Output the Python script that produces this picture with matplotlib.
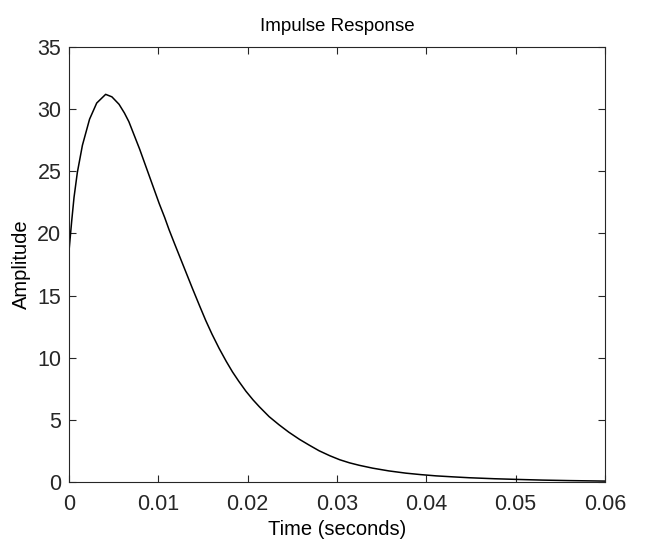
#!/usr/bin/env python3

import matplotlib
matplotlib.use("Agg")
import matplotlib.pyplot as plt

# points
t = [0.0, 0.00030, 0.00056, 0.00093, 0.0015, 0.0023, 0.0031, 0.0041, 0.0048,
     0.0056, 0.0062, 0.0067, 0.0073, 0.0079, 0.0084, 0.0090, 0.0096, 0.0101,
     0.0107, 0.0112, 0.0118, 0.0123, 0.0128, 0.0133, 0.0138, 0.0146, 0.0153,
     0.0160, 0.0168, 0.0176, 0.0183, 0.0190, 0.0198, 0.0206, 0.0213, 0.0224,
     0.0235, 0.0246, 0.0258, 0.0269, 0.0280, 0.0292, 0.0303, 0.0314, 0.0325,
     0.0340, 0.0358, 0.0377, 0.0394, 0.0411, 0.0430, 0.0448, 0.0476, 0.0504,
     0.0530, 0.0560, 0.0600]
amp = [18.6, 21.0, 22.9, 24.9, 27.1, 29.2, 30.5, 31.2, 31.0,
       30.4, 29.7, 29.0, 27.9, 26.8, 25.8, 24.6, 23.4, 22.4,
       21.3, 20.3, 19.2, 18.3, 17.4, 16.5, 15.6, 14.2, 13.0,
       11.9, 10.75, 9.7, 8.85, 8.1, 7.3, 6.6, 6.05, 5.25,
       4.6, 4.0, 3.42, 2.95, 2.5, 2.1, 1.78, 1.53, 1.33,
       1.10, 0.88, 0.70, 0.58, 0.48, 0.40, 0.33, 0.25, 0.19,
       0.14, 0.10, 0.06]

xticks = [0, 0.01, 0.02, 0.03, 0.04, 0.05, 0.06]
xticklabels = ["0", "0.01", "0.02", "0.03", "0.04", "0.05", "0.06"]
yticks = [0, 5, 10, 15, 20, 25, 30, 35]

plt.rcParams['font.family'] = ['Liberation Sans', 'DejaVu Sans']

fig = plt.figure(figsize=(6.45, 5.42), dpi=100)
ax = fig.add_axes([0.107, 0.111, 0.831, 0.802])

ax.plot(t, amp, color='black', linewidth=1.1)
ax.axhline(0, color='black', linestyle=':', linewidth=0.7)

ax.set_xlim(0, 0.06)
ax.set_ylim(0, 35)
ax.set_xticks(xticks)
ax.set_xticklabels(xticklabels)
ax.set_yticks(yticks)
ax.tick_params(direction='in', top=True, right=True, length=5, width=0.8,
               labelsize=15.5, colors='#262626')
ax.tick_params(axis='x', pad=9)
ax.tick_params(axis='y', pad=5.5)
for s in ax.spines.values():
	s.set_color('#262626')
	s.set_linewidth(0.8)

ax.set_xlabel('Time (seconds)', fontsize=14.5, labelpad=3)
ax.set_ylabel('Amplitude', fontsize=14.5, labelpad=4.5)
ax.set_title('Impulse Response', fontsize=13.5, pad=11.5)

fig.savefig('out.png', dpi=100)
